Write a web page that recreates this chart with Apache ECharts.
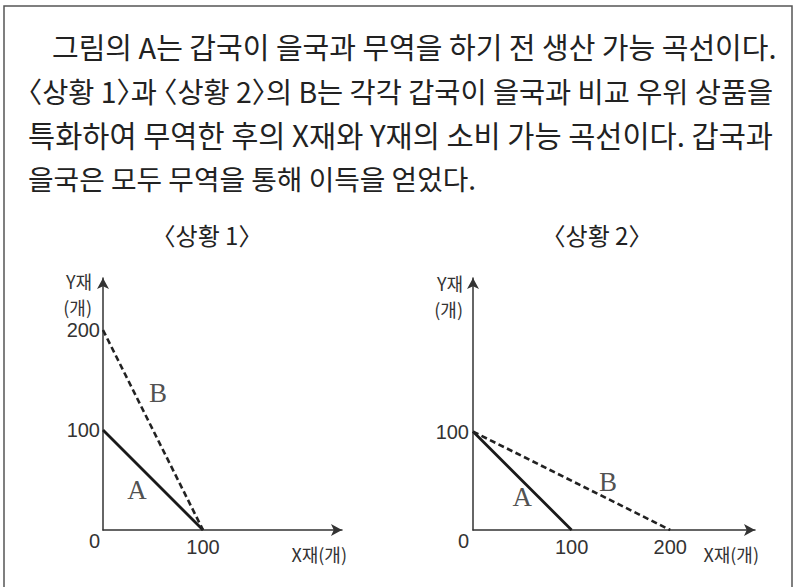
<!DOCTYPE html>
<html>
<head>
<meta charset="utf-8">
<script src="https://cdn.jsdelivr.net/npm/echarts@6/dist/echarts.min.js"></script>
<style>
  html, body { margin: 0; padding: 0; background: #fff; }
  #main { width: 797px; height: 587px; }
  /* 〈 〉 괄호를 반각으로 */
  #main text { font-feature-settings: "halt" 1 !important; }
</style>
</head>
<body>
<div id="main"></div>
<script>
  // 지문
  const paraLines = [
    '그림의 A는 갑국이 을국과 무역을 하기 전 생산 가능 곡선이다.',
    '〈상황 1〉과 〈상황 2〉의 B는 각각 갑국이 을국과 비교 우위 상품을',
    '특화하여 무역한 후의 X재와 Y재의 소비 가능 곡선이다. 갑국과',
    '을국은 모두 무역을 통해 이득을 얻었다.'
  ];
  const titles = ['〈상황 1〉', '〈상황 2〉'];
  const xName = 'X재(개)';
  const yName = 'Y재\n(개)';

  // 상황 1
  const lineA1 = [[0, 100], [100, 0]];
  const lineB1 = [[0, 200], [100, 0]];
  const xTicks1 = [100];
  const yTicks1 = [0, 100, 200];
  const tags1 = [[55, 137, 'B'], [34, 40, 'A']];

  // 상황 2
  const lineA2 = [[0, 100], [100, 0]];
  const lineB2 = [[0, 100], [200, 0]];
  const xTicks2 = [100, 200];
  const yTicks2 = [0, 100];
  const tags2 = [[137, 49, 'B'], [50, 34, 'A']];

  const chart = echarts.init(document.getElementById('main'), null, { renderer: 'svg' });

  const axisColor = '#333';
  const numFont = 'Liberation Sans';
  const krFont = 'Noto Sans CJK KR';

  const makeX = (idx, max, ticks, gap) => ({
    type: 'value', gridIndex: idx, min: 0, max: max,
    name: xName, nameLocation: 'end', nameGap: gap,
    nameTextStyle: { align: 'right', verticalAlign: 'top', padding: [15, 0, 0, 0],
      fontSize: 18, fontFamily: krFont, color: axisColor },
    axisLine: { show: true, symbol: ['none', 'arrow'], symbolSize: [9, 11],
      lineStyle: { color: axisColor, width: 1.5 } },
    axisTick: { show: false },
    splitLine: { show: false },
    axisLabel: { customValues: ticks, margin: 7, fontSize: 20, fontFamily: numFont, color: axisColor }
  });

  const makeY = (idx, max, ticks, margin, namePad) => ({
    type: 'value', gridIndex: idx, min: 0, max: max,
    name: yName, nameLocation: 'end', nameGap: 8,
    nameTextStyle: { align: 'right', verticalAlign: 'top', padding: [0, namePad, 0, 0],
      lineHeight: 26, fontSize: 18, fontFamily: krFont, color: axisColor },
    axisLine: { show: true, symbol: ['none', 'arrow'], symbolSize: [9, 11],
      lineStyle: { color: axisColor, width: 1.5 } },
    axisTick: { show: false },
    splitLine: { show: false },
    axisLabel: {
      customValues: ticks, margin: margin, fontSize: 20, fontFamily: numFont, color: axisColor,
      formatter: v => v === 0 ? '{o|0}' : String(v),
      rich: { o: { padding: [22, 0, 0, 0], fontSize: 20, fontFamily: numFont, color: axisColor } }
    }
  });

  const solid = (data, idx) => ({
    type: 'line', data: data, xAxisIndex: idx, yAxisIndex: idx,
    symbol: 'none', silent: true, z: 3,
    lineStyle: { color: '#1a1a1a', width: 2.8 }
  });
  const dashed = (data, idx) => ({
    type: 'line', data: data, xAxisIndex: idx, yAxisIndex: idx,
    symbol: 'none', silent: true, z: 3,
    lineStyle: { color: '#222', width: 2.6, type: [6, 3.5] }
  });
  const tags = (data, idx) => ({
    type: 'scatter', data: data, xAxisIndex: idx, yAxisIndex: idx,
    symbolSize: 0, silent: true,
    label: { show: true, position: 'inside', formatter: p => p.value[2],
      fontFamily: 'Liberation Serif', fontSize: 27, color: '#222' }
  });

  // 줄마다 폭을 맞추기 위한 글자 크기 (양쪽 정렬 흉내)
  const paraSize = [29, 28.4, 29.5, 27.8];

  const graphics = [
    { type: 'rect', shape: { x: 4, y: 6, width: 788, height: 600 },
      style: { fill: 'none', stroke: '#555', lineWidth: 1.5 }, silent: true }
  ];
  paraLines.forEach((t, i) => {
    graphics.push({
      type: 'text', x: i === 0 ? 52 : 28, y: 46 + 44 * i,
      style: { text: t, fill: '#222', font: paraSize[i] + 'px "Noto Sans CJK KR"',
        textAlign: 'left', textVerticalAlign: 'middle' }
    });
  });
  [207, 597].forEach((cx, i) => {
    graphics.push({
      type: 'text', x: cx, y: 234,
      style: { text: titles[i], fill: '#222', font: '24px "Noto Sans CJK KR"',
        textAlign: 'center', textVerticalAlign: 'middle' }
    });
  });

  const option = {
    animation: false,
    backgroundColor: '#fff',
    grid: [
      { left: 103, top: 278, width: 239, height: 252 },
      { left: 473, top: 278, width: 282, height: 252 }
    ],
    xAxis: [makeX(0, 239, xTicks1, 5), makeX(1, 286, xTicks2, 4)],
    yAxis: [makeY(0, 252, yTicks1, 3, 11), makeY(1, 256, yTicks2, 4, 10)],
    graphic: graphics,
    series: [
      solid(lineA1, 0), dashed(lineB1, 0), tags(tags1, 0),
      solid(lineA2, 1), dashed(lineB2, 1), tags(tags2, 1)
    ]
  };

  chart.setOption(option);
</script>
</body>
</html>
